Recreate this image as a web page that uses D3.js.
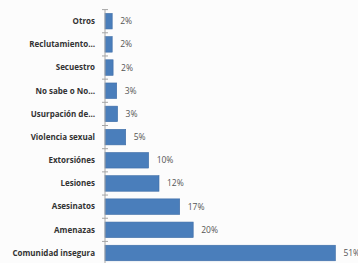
<!DOCTYPE html>
<html><head><meta charset="utf-8">
<script src="https://cdn.jsdelivr.net/npm/d3@7"></script>
<style>html,body{margin:0;padding:0;background:#fcfcfc;}svg{display:block;}</style>
</head><body>
<script>
const categories = ["Otros","Reclutamiento…","Secuestro","No sabe o No…","Usurpación de…","Violencia sexual","Extorsiónes","Lesiones","Asesinatos","Amenazas","Comunidad insegura"];
const values = [1.6,1.6,1.8,2.6,2.8,4.6,9.7,12.0,16.6,19.6,51.2];
const valueLabels = ["2%","2%","2%","3%","3%","5%","10%","12%","17%","20%","51%"];

const W = 358, H = 263;
const svg = d3.select("body").append("svg").attr("width", W).attr("height", H);
svg.append("rect").attr("width", W).attr("height", H).attr("fill", "#fcfcfc");

const x0 = 105;
const x = d3.scaleLinear().domain([0, 60]).range([x0, x0 + 270]);
const y = d3.scaleBand().domain(categories).range([9.6, 264.6]).paddingInner(0.33).paddingOuter(0.165);

// bars
svg.selectAll("rect.bar").data(categories).enter().append("rect")
  .attr("class","bar")
  .attr("x", x(0))
  .attr("y", d => y(d))
  .attr("width", (d,i) => x(values[i]) - x(0))
  .attr("height", y.bandwidth())
  .attr("fill", "#4a7ebb")
  .attr("stroke", "#3d6ca6")
  .attr("stroke-width", 0.6);

// axis line and cross ticks
const step = y.step();
const start = y.range()[0];
const axisG = svg.append("g");
axisG.append("line").attr("x1", x0).attr("x2", x0).attr("y1", start).attr("y2", H)
  .attr("stroke", "#a6a6a6").attr("stroke-width", 1);
const tickYs = d3.range(categories.length + 1).map(i => start + i * step);
axisG.selectAll("line.tk").data(tickYs).enter().append("line")
  .attr("class","tk")
  .attr("x1", x0 - 3).attr("x2", x0 + 3)
  .attr("y1", d => d).attr("y2", d => d)
  .attr("stroke", "#a6a6a6").attr("stroke-width", 1);

// category labels
svg.selectAll("text.cat").data(categories).enter().append("text")
  .attr("class","cat")
  .attr("x", 95)
  .attr("y", d => y(d) + y.bandwidth()/2)
  .attr("dy", "0.35em")
  .attr("text-anchor", "end")
  .attr("font-family", "'Open Sans', sans-serif")
  .attr("font-weight", 700)
  .attr("font-size", "8px")
  .attr("fill", "#333")
  .text(d => d);

// value labels
svg.selectAll("text.val").data(categories).enter().append("text")
  .attr("class","val")
  .attr("x", (d,i) => x(values[i]) + 8)
  .attr("y", d => y(d) + y.bandwidth()/2)
  .attr("dy", "0.35em")
  .attr("font-family", "'Open Sans', sans-serif")
  .attr("font-size", "8.5px")
  .attr("fill", "#555")
  .text((d,i) => valueLabels[i]);
</script>
</body></html>
